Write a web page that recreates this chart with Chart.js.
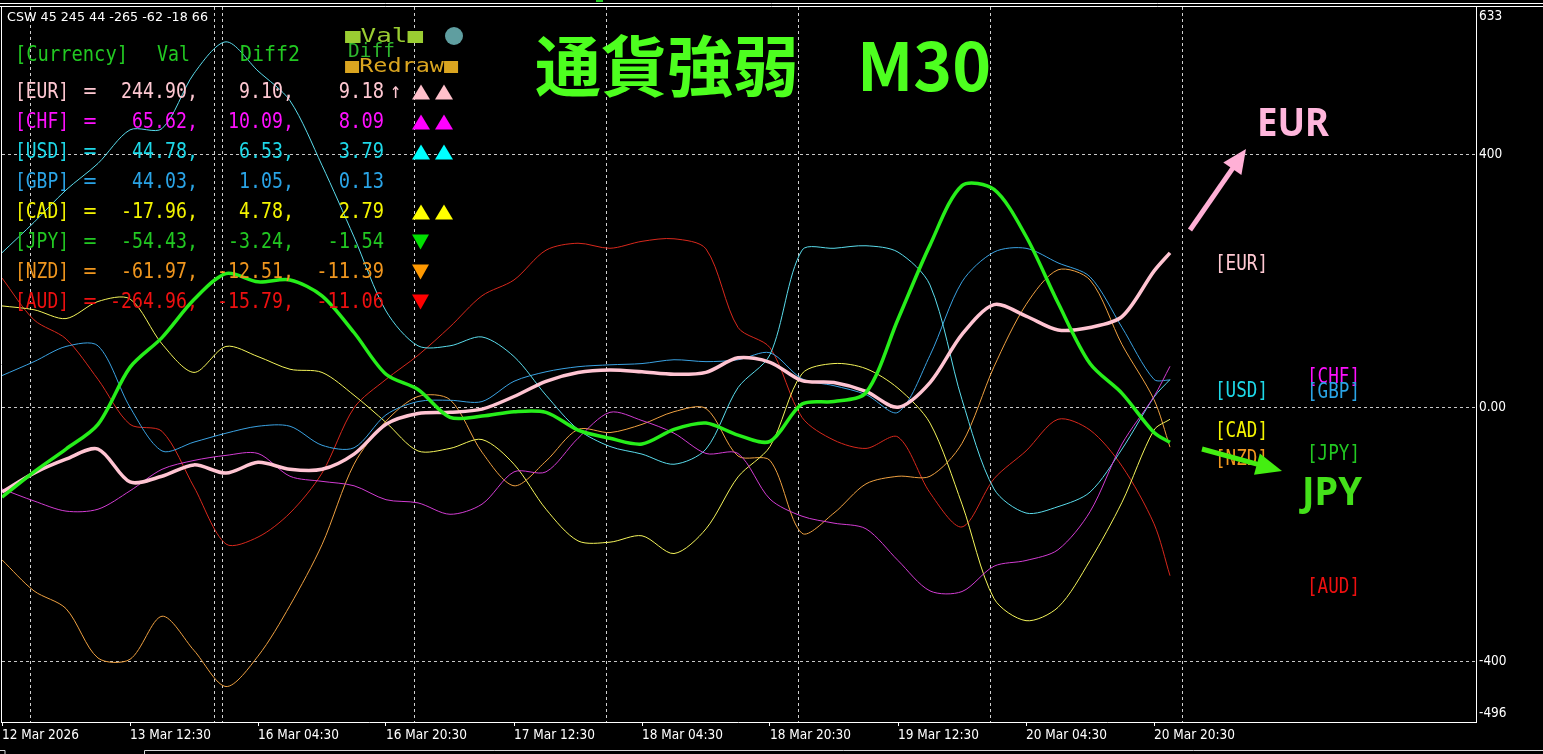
<!DOCTYPE html>
<html lang="ja">
<head>
<meta charset="UTF-8">
<meta name="viewport" content="width=device-width, initial-scale=1.0">
<title>通貨強弱 M30</title>
<script src="https://cdn.jsdelivr.net/npm/chart.js"></script>
<style>
  html, body { margin: 0; padding: 0; background: #000; overflow: hidden; }
  canvas { display: block; }
</style>
</head>
<body>
<canvas id="csw" width="1543" height="754"></canvas>
<script>
// M30 bar index of each sampled point (the chart uses 4px per bar)
const bars = [0, 8, 16, 24, 32, 40, 48, 56, 64, 72, 80, 88, 96, 104, 112, 120, 128, 136,
  144, 152, 160, 168, 176, 184, 192, 200, 208, 216, 224, 232, 240, 248, 256, 264, 272, 280, 288, 292];

const currencies = ['EUR', 'CHF', 'USD', 'GBP', 'CAD', 'JPY', 'NZD', 'AUD'];

// strength lines
const eur = [-133, -103, -81, -65, -117, -108, -90, -103, -86, -97, -97, -73, -26, -9, -7, -2, 18, 42,
  56, 60, 57, 53, 56, 79, 72, 43, 40, 26, 1, 40, 116, 163, 145, 123, 127, 144, 216, 244.9];
const chf = [-128, -147, -163, -160, -131, -97, -83, -75, -72, -108, -116, -123, -145, -150, -168, -152, -101, -101,
  -48, -7, -20, -40, -72, -72, -144, -171, -182, -191, -241, -289, -290, -250, -241, -224, -164, -57, 18, 65.62];
const usd = [245, 293, 344, 386, 439, 441, 528, 578, 532, 485, 383, 270, 153, 98, 98, 112, 81, 20,
  -34, -61, -73, -89, -65, 32, 84, 249, 252, 256, 246, 194, 13, -128, -166, -156, -133, -65, 17, 44.78];
const gbp = [51, 73, 97, 98, 1, -68, -54, -40, -29, -29, -59, -63, -11, 10, 12, 10, 42, 57,
  65, 68, 70, 76, 73, 76, 87, 46, 35, 21, -7, 83, 199, 246, 252, 229, 207, 127, 45, 44.03];
const cad = [161, 155, 141, 168, 172, 101, 56, 97, 81, 61, 56, 20, -23, -68, -64, -50, -89, -160,
  -210, -212, -202, -230, -191, -109, -61, 54, 70, 62, 31, -24, -152, -301, -336, -315, -241, -149, -35, -17.96];
const jpy = [-141, -101, -65, -26, 64, 111, 171, 212, 199, 202, 177, 119, 53, 29, -15, -13, -6, -7,
  -35, -48, -57, -34, -24, -43, -53, 6, 10, 24, 140, 257, 351, 345, 271, 166, 70, 23, -39, -54.43];
const nzd = [-240, -289, -317, -395, -397, -329, -383, -440, -392, -312, -216, -89, -21, 18, 13, -70, -123, -84,
  -34, -39, -26, -6, -1, -76, -83, -198, -166, -120, -108, -108, -56, 65, 163, 218, 202, 100, 13, -61.97];
const aud = [205, 139, 109, 45, -26, -37, -125, -215, -204, -166, -103, 0, 45, 83, 128, 177, 202, 249,
  260, 252, 263, 267, 251, 127, 95, -15, -51, -64, -46, -134, -188, -112, -68, -18, -35, -92, -183, -264.96];

// panel values
const valNow = [244.90, 65.62, 44.78, 44.03, -17.96, -54.43, -61.97, -264.96];
const diff2 = [9.10, 10.09, 6.53, 1.05, 4.78, -3.24, -12.51, -15.79];
const diff1 = [9.18, 8.09, 3.79, 0.13, 2.79, -1.54, -11.39, -11.06];
const trend = [2, 2, 2, 0, 2, -1, -1, -1];
const diffMark = ['↑', '', '', '', '', '', '', ''];
const cswLine = 'CSW 45 245 44 -265 -62 -18 66';

// axes
const yTicks = [-400, 0, 400];
const yEdges = [633, -496];
const xTickBars = [0, 32, 64, 96, 128, 160, 192, 224, 256, 288];
const xTickLabels = ['12 Mar 2026', '13 Mar 12:30', '16 Mar 04:30', '16 Mar 20:30', '17 Mar 12:30',
  '18 Mar 04:30', '18 Mar 20:30', '19 Mar 12:30', '20 Mar 04:30', '20 Mar 20:30'];
const daySepBars = [7, 53, 55, 103, 151, 199, 247, 295];

const series = { EUR: eur, CHF: chf, USD: usd, GBP: gbp, CAD: cad, JPY: jpy, NZD: nzd, AUD: aud };

const lineColors = { EUR: '#ffc4d2', CHF: '#d23cd2', USD: '#5adcec', GBP: '#3aa2e2',
  CAD: '#f4f45a', JPY: '#26ee1a', NZD: '#eea040', AUD: '#d8281c' };
const textColors = { EUR: '#ffc8d2', CHF: '#ff10ff', USD: '#1ed8e8', GBP: '#2aa4e6',
  CAD: '#f4f400', JPY: '#22c822', NZD: '#f0961e', AUD: '#ee1010' };
const triColors = { EUR: '#ffc0cb', CHF: '#ff00ff', USD: '#00ffff', GBP: '#1e90ff',
  CAD: '#ffff00', JPY: '#00e000', NZD: '#ff9900', AUD: '#ff0000' };
const tagPos = { EUR: [1215, 264], USD: [1215, 391], CHF: [1307, 377], GBP: [1307, 392],
  CAD: [1215, 431], NZD: [1215, 459], JPY: [1307, 454], AUD: [1307, 587] };

const monoFont = '22px "DejaVu Sans Mono"';
const axisFont = '13.5px "DejaVu Sans Condensed"';

// draw text squeezed/stretched to a given width
function fitText(ctx, s, x, y, font, color, w, align) {
  ctx.save();
  ctx.font = font;
  ctx.fillStyle = color;
  ctx.textBaseline = 'middle';
  ctx.textAlign = 'left';
  const m = ctx.measureText(s).width;
  const sx = w ? w / m : 1;
  let x0 = x;
  if (align === 'right') x0 = x - m * sx;
  if (align === 'center') x0 = x - m * sx / 2;
  ctx.translate(x0, y);
  ctx.scale(sx, 1);
  ctx.fillText(s, 0, 0);
  ctx.restore();
}

function tri(ctx, x, y, w, h, up, color) {
  ctx.fillStyle = color;
  ctx.beginPath();
  if (up) {
    ctx.moveTo(x + w / 2, y - h / 2); ctx.lineTo(x + w, y + h / 2); ctx.lineTo(x, y + h / 2);
  } else {
    ctx.moveTo(x, y - h / 2); ctx.lineTo(x + w, y - h / 2); ctx.lineTo(x + w / 2, y + h / 2);
  }
  ctx.closePath();
  ctx.fill();
}

function arrow(ctx, x1, y1, x2, y2, color, width, headLen, headHalf) {
  const dx = x2 - x1, dy = y2 - y1, len = Math.hypot(dx, dy);
  const ux = dx / len, uy = dy / len;
  const bx = x2 - ux * headLen, by = y2 - uy * headLen;
  ctx.save();
  ctx.strokeStyle = color; ctx.fillStyle = color; ctx.lineWidth = width; ctx.lineCap = 'butt';
  ctx.beginPath(); ctx.moveTo(x1, y1); ctx.lineTo(bx + ux * 2, by + uy * 2); ctx.stroke();
  ctx.beginPath();
  ctx.moveTo(x2, y2);
  ctx.lineTo(bx - uy * headHalf, by + ux * headHalf);
  ctx.lineTo(bx + uy * headHalf, by - ux * headHalf);
  ctx.closePath(); ctx.fill();
  ctx.restore();
}

const overlay = {
  id: 'overlay',
  beforeDatasetsDraw(chart) {
    const { ctx, chartArea: a, scales: { x } } = chart;
    ctx.save();
    ctx.strokeStyle = '#d0d0d0';
    ctx.lineWidth = 1;
    ctx.setLineDash([3, 3]);
    daySepBars.forEach(b => {
      const px = Math.round(x.getPixelForValue(b)) + 0.5;
      ctx.beginPath(); ctx.moveTo(px, a.top); ctx.lineTo(px, a.bottom); ctx.stroke();
    });
    ctx.restore();
  },
  afterDraw(chart) {
    const { ctx, chartArea: a } = chart;
    ctx.save();

    // frame
    ctx.strokeStyle = '#ffffff';
    ctx.lineWidth = 1;
    ctx.beginPath();
    ctx.moveTo(0, 3.5); ctx.lineTo(1543, 3.5);
    ctx.moveTo(0, a.top - 0.5); ctx.lineTo(1543, a.top - 0.5);
    ctx.moveTo(1.5, a.top); ctx.lineTo(1.5, a.bottom);
    ctx.moveTo(a.right + 0.5, a.top); ctx.lineTo(a.right + 0.5, a.bottom + 1);
    ctx.moveTo(1, a.bottom + 0.5); ctx.lineTo(a.right, a.bottom + 0.5);
    ctx.stroke();
    ctx.strokeStyle = '#d8d8d8';
    ctx.beginPath();
    ctx.moveTo(0, 750.5); ctx.lineTo(5, 750.5); ctx.lineTo(5, 754);
    ctx.moveTo(144.5, 754); ctx.lineTo(144.5, 750.5); ctx.lineTo(1543, 750.5);
    ctx.stroke();
    ctx.fillStyle = '#22cc22';
    ctx.fillRect(596, 0, 7, 2);

    // y edge labels
    ctx.fillStyle = '#ffffff';
    ctx.font = axisFont;
    ctx.textBaseline = 'middle';
    ctx.fillText(String(yEdges[0]), a.right + 3, 16);
    ctx.fillText(String(yEdges[1]), a.right + 3, 713);

    // panel
    fitText(ctx, cswLine, 7, 18, '13px "DejaVu Sans"', '#ffffff', 201);
    fitText(ctx, '[Currency]', 15, 55, monoFont, '#22c822', 113);
    fitText(ctx, 'Val', 157, 55, monoFont, '#22c822', 33);
    fitText(ctx, 'Diff2', 240, 55, monoFont, '#22c822', 60);
    fitText(ctx, '■Val■', 345, 37, '20px "DejaVu Sans Mono"', '#9acd32', 78);
    fitText(ctx, 'Diff', 348, 52, '20px "DejaVu Sans Mono"', '#2eb82e', 47);
    fitText(ctx, '■Redraw■', 345, 67, '20px "DejaVu Sans Mono"', '#daa520', 113);
    ctx.fillStyle = '#5f9ea0';
    ctx.beginPath(); ctx.arc(454, 36, 9, 0, Math.PI * 2); ctx.fill();

    currencies.forEach((c, i) => {
      const ry = 92 + i * 30;
      const col = textColors[c];
      fitText(ctx, '[' + c + ']', 15, ry, monoFont, col, 54);
      fitText(ctx, '=', 90, ry, monoFont, col, 13, 'center');
      const v = valNow[i].toFixed(2) + ',';
      fitText(ctx, v, 198, ry, monoFont, col, 11 * v.length, 'right');
      const d2 = diff2[i].toFixed(2) + ',';
      fitText(ctx, d2, 294, ry, monoFont, col, 11 * d2.length, 'right');
      const d1 = diff1[i].toFixed(2);
      fitText(ctx, d1, 384, ry, monoFont, col, 11.3 * d1.length, 'right');
      if (diffMark[i]) fitText(ctx, diffMark[i], 390, ry, monoFont, col, 11);
      if (trend[i] > 0) {
        tri(ctx, 412, ry, 18, 15, true, triColors[c]);
        if (trend[i] > 1) tri(ctx, 435, ry, 18, 15, true, triColors[c]);
      } else if (trend[i] < 0) {
        tri(ctx, 412, ry, 17, 15, false, triColors[c]);
      }
    });

    // title
    ctx.save();
    ctx.font = 'bold 66px "Noto Sans CJK JP"';
    ctx.fillStyle = '#4dff1f';
    ctx.textBaseline = 'middle';
    ctx.textAlign = 'left';
    if ('wordSpacing' in ctx) ctx.wordSpacing = '43px';
    ctx.fillText('通貨強弱 M30', 535, 66);
    ctx.restore();

    // right side tags
    ['EUR', 'USD', 'CHF', 'GBP', 'CAD', 'NZD', 'JPY', 'AUD'].forEach(c => {
      const p = tagPos[c];
      fitText(ctx, '[' + c + ']', p[0], p[1], monoFont, textColors[c], 53);
    });

    // EUR / JPY callouts
    arrow(ctx, 1190, 230, 1246, 149, '#ffb0d6', 5, 24, 11);
    fitText(ctx, 'EUR', 1257, 125, 'bold 40px "Noto Sans"', '#ffb6dc', 72);
    arrow(ctx, 1202, 449, 1282, 471, '#44ee11', 5, 26, 11);
    fitText(ctx, 'JPY', 1302, 494, 'bold 40px "Noto Sans"', '#44e01a', 60);

    ctx.restore();
  }
};

const order = ['JPY', 'EUR', 'CHF', 'USD', 'GBP', 'CAD', 'NZD', 'AUD'];
const datasets = order.map(c => ({
  label: c,
  data: series[c].map((v, i) => ({ x: bars[i], y: v })),
  borderColor: lineColors[c],
  borderWidth: (c === 'EUR' || c === 'JPY') ? 3.5 : 1,
  pointRadius: 0,
  tension: 0.3,
  fill: false
}));

new Chart(document.getElementById('csw'), {
  type: 'line',
  data: { datasets: datasets },
  options: {
    responsive: false,
    devicePixelRatio: 1,
    animation: false,
    layout: { padding: { left: 2, top: 7, right: 0, bottom: 0 } },
    plugins: { legend: { display: false }, tooltip: { enabled: false } },
    scales: {
      x: {
        type: 'linear',
        min: 0,
        max: 368.5,
        afterBuildTicks: s => { s.ticks = xTickBars.map(v => ({ value: v })); },
        afterFit: s => { s.height = 32; s.paddingLeft = 0; s.paddingRight = 0; },
        ticks: {
          autoSkip: false,
          maxRotation: 0,
          align: 'start',
          padding: 1,
          color: '#ffffff',
          font: { family: 'DejaVu Sans Condensed', size: 13.5 },
          callback: (v, i) => xTickLabels[i]
        },
        grid: { drawOnChartArea: false, drawTicks: true, tickLength: 4, color: '#ffffff' },
        border: { display: false }
      },
      y: {
        type: 'linear',
        position: 'right',
        min: -496,
        max: 633,
        afterBuildTicks: s => { s.ticks = yTicks.map(v => ({ value: v })); },
        afterFit: s => { s.width = 67; s.paddingTop = 0; s.paddingBottom = 0; },
        ticks: {
          padding: 3,
          color: '#ffffff',
          font: { family: 'DejaVu Sans Condensed', size: 13.5 },
          callback: v => (v === 0 ? '0.00' : String(v))
        },
        grid: { color: '#c8c8c8', drawTicks: false, lineWidth: 1 },
        border: { display: false, dash: [3, 3] }
      }
    }
  },
  plugins: [overlay]
});
</script>
</body>
</html>
